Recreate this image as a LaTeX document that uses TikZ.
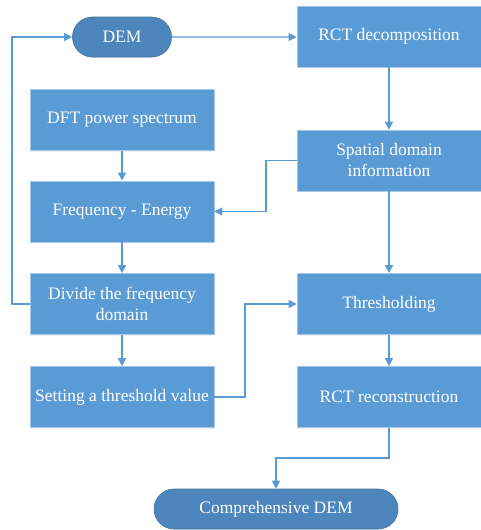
\documentclass[tikz,border=0pt]{standalone}
\usepackage{fontspec}
\setmainfont{Liberation Serif}
\usetikzlibrary{arrows.meta,shapes.misc,shadows}
\definecolor{boxblue}{HTML}{5B9BD5}
\definecolor{pillblue}{HTML}{4D86BC}
\definecolor{pillline}{HTML}{41719C}
\definecolor{lineblue}{HTML}{5B9BD5}

\tikzset{
  stepbox/.style={rectangle, fill=boxblue, draw=boxblue!55!white, line width=0.6pt,
    minimum width=184pt, minimum height=61pt, inner sep=2pt, align=center,
    text=white, font=\fontsize{17.5}{21}\selectfont,
    drop shadow={opacity=0.12, shadow xshift=1pt, shadow yshift=-1pt}},
  endpill/.style={rounded rectangle, fill=pillblue, draw=pillline, line width=0.6pt,
    minimum height=40pt, inner sep=2pt, text=white, font=\fontsize{17.5}{21}\selectfont,
    drop shadow={opacity=0.12, shadow xshift=1pt, shadow yshift=-1pt}},
  flow/.style={draw=lineblue, line width=1.1pt, -{Triangle[length=8pt,width=8pt]}}
}

\begin{document}
\begin{tikzpicture}[x=1pt, y=-1pt]
  \useasboundingbox (0,0) rectangle (481,530);

  % left column
  \node[endpill, minimum width=103pt] (dem) at (122,37) {DEM};
  \node[stepbox] (dft) at (122,120) {DFT power spectrum};
  \node[stepbox] (energy) at (122,211.5) {Frequency - Energy};
  \node[stepbox] (divide) at (122,304) {Divide the frequency\\domain};
  \node[stepbox] (setting) at (122,397) {Setting a threshold value};

  % right column
  \node[stepbox] (decomp) at (389,36.5) {RCT decomposition};
  \node[stepbox] (spatial) at (389,160.5) {Spatial domain\\information};
  \node[stepbox] (thresh) at (389,304) {Thresholding};
  \node[stepbox] (recon) at (389,397) {RCT reconstruction};

  \node[endpill, minimum width=248pt] (comp) at (276,509) {Comprehensive DEM};

  % connectors
  \draw[flow] (dem) -- (decomp.west |- dem);
  \draw[flow] (decomp) -- (spatial);
  \draw[flow] (dft) -- (energy);
  \draw[flow] (energy) -- (divide);
  \draw[flow] (divide) -- (setting);
  \draw[flow] (spatial) -- (thresh);
  \draw[flow] (thresh) -- (recon);
  \draw[flow] (divide.west) -- (12,304) -- (12,37) -- (dem.west);
  \draw[flow] (spatial.west) -- (266,160.5) |- (energy.east);
  \draw[flow] (setting.east) -- (245,397) |- (thresh.west);
  \draw[flow] (recon.south) -- (389,458) -| (comp.north);
\end{tikzpicture}
\end{document}
